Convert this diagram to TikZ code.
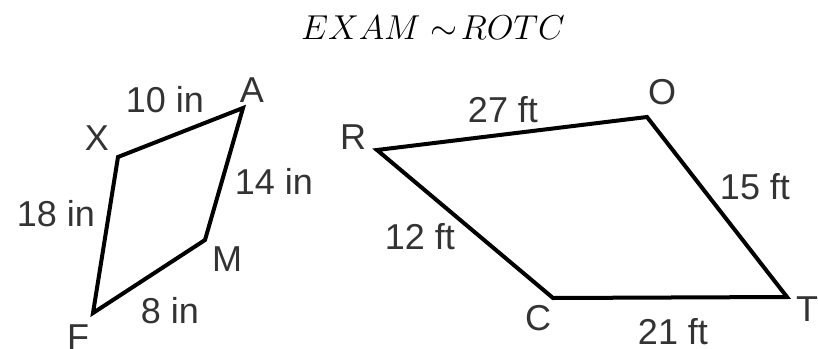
\documentclass[tikz,border=0pt]{standalone}
\usepackage{fontspec}
\setmainfont{Liberation Sans}
\usetikzlibrary{positioning}
\definecolor{lblgray}{HTML}{333333}

\begin{document}
\begin{tikzpicture}[
  x=0.5pt, y=-0.5pt,
  edge/.style={line width=2pt, line join=miter, draw=black},
  lbl/.style={text=lblgray, font=\fontsize{18}{20}\selectfont, inner sep=0pt},
  vlbl/.style={text=lblgray, font=\fontsize{18}{20}\selectfont, inner sep=0pt},
]

% Frame
\useasboundingbox (0,0) rectangle (818,348);

% Title
\node[font=\fontsize{17}{20}\selectfont, inner sep=0pt] (title) at (433,28) {$EXAM \sim\! ROTC$};

% Left quadrilateral XAMF
\coordinate (X) at (118,157);
\coordinate (A) at (243,108);
\coordinate (M) at (205,240);
\coordinate (F) at (93,313);
\draw[edge] (X) -- (A) -- (M) -- (F) -- cycle;

\node[vlbl] (lX) at (97,138) {X};
\node[vlbl] (lA) at (252,90) {A};
\node[vlbl] (lM) at (227,259) {M};
\node[vlbl] (lF) at (78,337) {F};

\node[lbl] (xa) at (165,100) {10 in};
\node[lbl] (am) at (274,181) {14 in};
\node[lbl] (xf) at (56,214) {18 in};
\node[lbl] (mf) at (170,311) {8 in};

% Right quadrilateral ROTC
\coordinate (R) at (377,150);
\coordinate (O) at (647,117);
\coordinate (T) at (787,297);
\coordinate (C) at (553,298);
\draw[edge] (R) -- (O) -- (T) -- (C) -- cycle;

\node[vlbl] (lR) at (353,137) {R};
\node[vlbl] (lO) at (662,92) {O};
\node[vlbl] (lT) at (807,309) {T};
\node[vlbl] (lC) at (538,318) {C};

\node[lbl] (ro) at (503,110) {27 ft};
\node[lbl] (ot) at (755,187) {15 ft};
\node[lbl] (rc) at (420,237) {12 ft};
\node[lbl] (ct) at (673,332) {21 ft};

\end{tikzpicture}
\end{document}
